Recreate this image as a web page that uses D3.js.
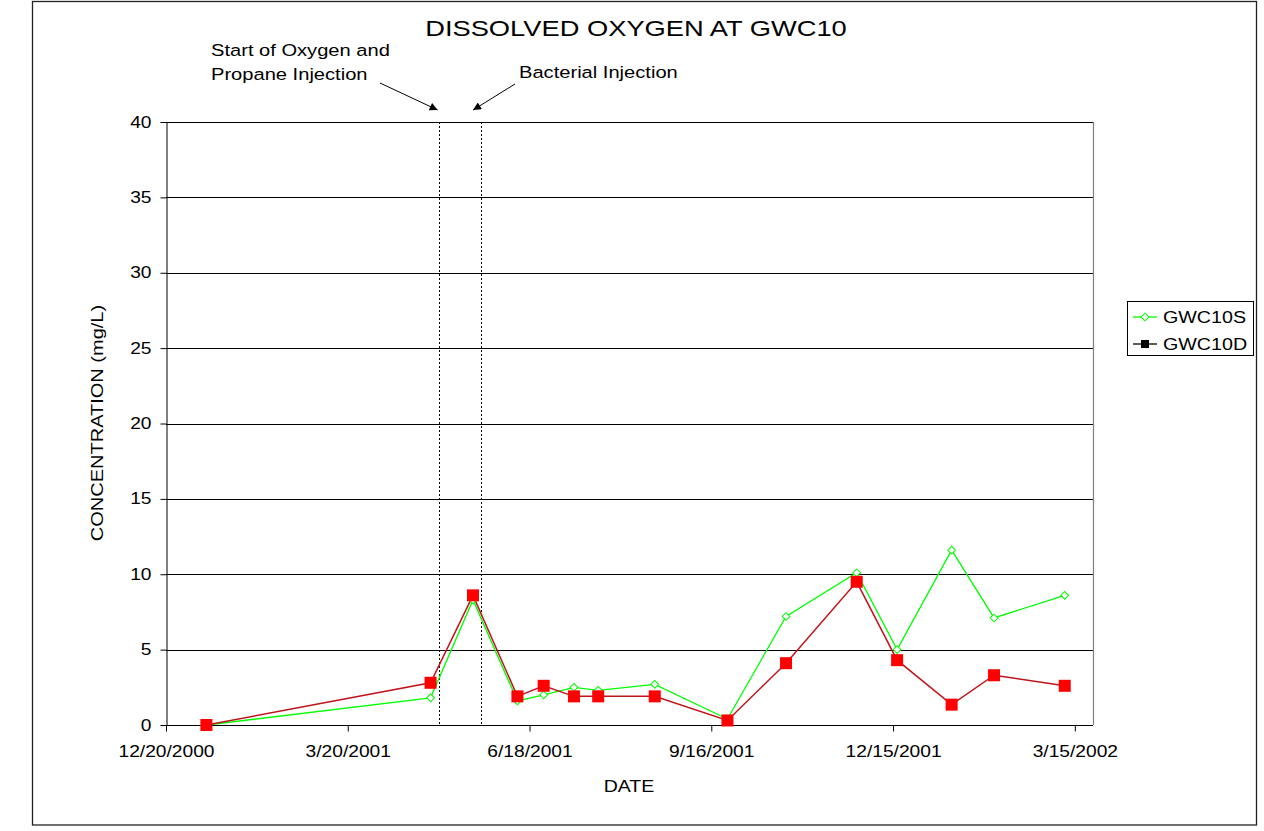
<!DOCTYPE html>
<html>
<head>
<meta charset="utf-8">
<script src="https://cdn.jsdelivr.net/npm/d3@7"></script>
<style>
  body { margin: 0; background: #fff; }
  text { font-family: "Liberation Sans", Arial, sans-serif; fill: #000; }
</style>
</head>
<body>
<svg width="1264" height="831"></svg>
<script>
// sample dates and values
var dates = ["1/9/2001", "4/30/2001", "5/21/2001", "6/12/2001", "6/25/2001", "7/10/2001", "7/22/2001",
             "8/19/2001", "9/24/2001", "10/23/2001", "11/27/2001", "12/17/2001", "1/13/2002", "2/3/2002", "3/10/2002"];
var gwc10s = [0, 1.8, 8.3, 1.6, 2.0, 2.5, 2.3, 2.7, 0.4, 7.2, 10.1, 5.0, 11.6, 7.1, 8.6];
var gwc10d = [0, 2.8, 8.6, 1.9, 2.6, 1.9, 1.9, 1.9, 0.3, 4.1, 9.5, 4.3, 1.35, 3.3, 2.6];
var tickDates = ["12/20/2000", "3/20/2001", "6/18/2001", "9/16/2001", "12/15/2001", "3/15/2002"];
var yTicks = [0, 5, 10, 15, 20, 25, 30, 35, 40];
var events = [
  {date: "5/4/2001", label: ["Start of Oxygen and", "Propane Injection"]},
  {date: "5/25/2001", label: ["Bacterial Injection"]}
];

var parse = d3.utcParse("%m/%d/%Y"),
    fmt = d3.utcFormat("%-m/%-d/%Y");

var svg = d3.select("svg"),
    margin = {top: 122, left: 166, right: 1093, bottom: 725};

//The original text is drawn wider than Liberation Sans, so stretch it around its anchor
function stretch(sel, sx) {
  sel.each(function() {
    var t = d3.select(this), ax = +(t.attr("x") || 0);
    t.attr("transform", "translate(" + ax + ",0) scale(" + sx + ",1) translate(" + (-ax) + ",0)");
  });
}

var x = d3.scaleUtc()
    .domain([parse("12/20/2000"), parse("3/24/2002")])
    .range([margin.left, margin.right]);
var y = d3.scaleLinear().domain([0, 40]).range([margin.bottom, margin.top]);

// outer chart frame
svg.append("rect")
    .attr("x", 32.5).attr("y", 1.5).attr("width", 1224).attr("height", 823.5)
    .attr("fill", "none").attr("stroke", "#222").attr("stroke-width", 1.3);

// gridlines
svg.append("g").selectAll("line")
    .data(yTicks.slice(1))
  .enter().append("line")
    .attr("x1", margin.left).attr("x2", margin.right)
    .attr("y1", function(d) { return Math.round(y(d)) + 0.5; })
    .attr("y2", function(d) { return Math.round(y(d)) + 0.5; })
    .attr("stroke", "#000");

// plot area right border
svg.append("line")
    .attr("x1", margin.right + 0.5).attr("x2", margin.right + 0.5)
    .attr("y1", margin.top).attr("y2", margin.bottom)
    .attr("stroke", "#808080").attr("stroke-width", 1.2);

// axes
var yAxis = d3.axisLeft(y).tickValues(yTicks).tickSize(6).tickPadding(9).tickSizeOuter(0);
var gy = svg.append("g")
    .attr("transform", "translate(" + (margin.left + 0.5) + ",0)")
    .call(yAxis);

var xAxis = d3.axisBottom(x).tickValues(tickDates.map(parse)).tickFormat(fmt)
    .tickSize(6).tickPadding(14).tickSizeOuter(0);
var gx = svg.append("g")
    .attr("transform", "translate(0," + (Math.round(y(0)) + 0.5) + ")")
    .call(xAxis);

[gx, gy].forEach(function(g) {
  g.select(".domain").attr("stroke", "#000");
  g.selectAll("line").attr("stroke", "#000");
  g.selectAll("text").attr("font-size", 16).attr("font-family", "Liberation Sans, Arial, sans-serif");
  stretch(g.selectAll("text"), 1.2);
});
gx.select(".domain").attr("d", "M" + margin.left + ",0H" + margin.right);

// event lines
events.forEach(function(e) {
  var ex = Math.round(x(parse(e.date))) + 0.5;
  svg.append("line")
      .attr("x1", ex).attr("x2", ex)
      .attr("y1", margin.top).attr("y2", margin.bottom)
      .attr("stroke", "#000").attr("stroke-dasharray", "2,2");
});

// annotation arrows
svg.append("defs").append("marker")
    .attr("id", "arrow").attr("viewBox", "0 0 10 10")
    .attr("refX", 10).attr("refY", 5)
    .attr("markerWidth", 10).attr("markerHeight", 8)
    .attr("markerUnits", "userSpaceOnUse")
    .attr("orient", "auto")
  .append("path").attr("d", "M0,0L10,5L0,10Z").attr("fill", "#000");

var ex0 = x(parse(events[0].date)), ex1 = x(parse(events[1].date));
svg.append("line")
    .attr("x1", 380).attr("y1", 83).attr("x2", ex0 - 1).attr("y2", 110)
    .attr("stroke", "#000").attr("marker-end", "url(#arrow)");
svg.append("line")
    .attr("x1", 515).attr("y1", 84).attr("x2", ex1 - 8).attr("y2", 110)
    .attr("stroke", "#000").attr("marker-end", "url(#arrow)");

var note1 = svg.append("text").attr("x", 211).attr("y", 56).attr("font-size", 16.5);
note1.append("tspan").attr("x", 211).text(events[0].label[0]);
note1.append("tspan").attr("x", 211).attr("dy", 24).text(events[0].label[1]);
var note2 = svg.append("text").attr("x", 519).attr("y", 78).attr("font-size", 16.5).text(events[1].label[0]);
stretch(note1, 1.22);
stretch(note2, 1.22);

// series
var line = d3.line()
    .x(function(d, i) { return x(parse(dates[i])); })
    .y(function(d) { return y(d); });

svg.append("path").datum(gwc10s)
    .attr("fill", "none").attr("stroke", "#00ff00").attr("stroke-width", 1.3)
    .attr("d", line);
svg.append("path").datum(gwc10d)
    .attr("fill", "none").attr("stroke", "#c0141c").attr("stroke-width", 1.5)
    .attr("d", line);

var diamond = d3.symbol().type(d3.symbolSquare).size(30);
svg.append("g").selectAll("path")
    .data(gwc10s)
  .enter().append("path")
    .attr("d", diamond)
    .attr("transform", function(d, i) { return "translate(" + x(parse(dates[i])) + "," + y(d) + ") rotate(45)"; })
    .attr("fill", "#fff").attr("stroke", "#00ff00").attr("stroke-width", 1);

svg.append("g").selectAll("rect")
    .data(gwc10d)
  .enter().append("rect")
    .attr("x", function(d, i) { return x(parse(dates[i])) - 6; })
    .attr("y", function(d) { return y(d) - 6; })
    .attr("width", 12).attr("height", 12)
    .attr("fill", "#ff0000");

// titles
var title = svg.append("text").attr("x", 636).attr("y", 36).attr("text-anchor", "middle")
    .attr("font-size", 21.5).text("DISSOLVED OXYGEN AT GWC10");
stretch(title, 1.27);
var xTitle = svg.append("text").attr("x", 629).attr("y", 792).attr("text-anchor", "middle")
    .attr("font-size", 16).text("DATE");
stretch(xTitle, 1.22);
svg.append("text").attr("transform", "translate(103,423) rotate(-90) scale(1.25,1)").attr("text-anchor", "middle")
    .attr("font-size", 16).text("CONCENTRATION (mg/L)");

// legend
var legend = svg.append("g");
legend.append("rect")
    .attr("x", 1127.5).attr("y", 301.5).attr("width", 126).attr("height", 54)
    .attr("fill", "#fff").attr("stroke", "#000");
var items = [{name: "GWC10S", color: "#00ff00", y: 317}, {name: "GWC10D", color: "#000", y: 344}];
items.forEach(function(it, i) {
  legend.append("line")
      .attr("x1", 1133).attr("x2", 1157).attr("y1", it.y).attr("y2", it.y)
      .attr("stroke", it.color).attr("stroke-width", 1.3);
  if (i == 0) {
    legend.append("path").attr("d", diamond)
        .attr("transform", "translate(1145," + it.y + ") rotate(45)")
        .attr("fill", "#fff").attr("stroke", it.color);
  } else {
    legend.append("rect").attr("x", 1141).attr("y", it.y - 4).attr("width", 8).attr("height", 8)
        .attr("fill", "#000");
  }
  var lt = legend.append("text").attr("x", 1163).attr("y", it.y + 6).attr("font-size", 16).text(it.name);
  stretch(lt, 1.23);
});
</script>
</body>
</html>
